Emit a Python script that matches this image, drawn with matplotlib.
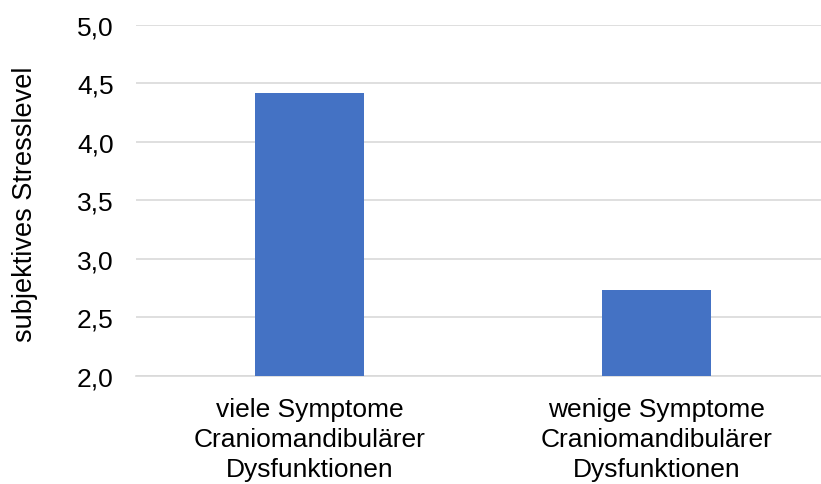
import matplotlib.pyplot as plt
from matplotlib.ticker import FuncFormatter

categories = ["viele Symptome\nCraniomandibulärer\nDysfunktionen",
              "wenige Symptome\nCraniomandibulärer\nDysfunktionen"]
values = [4.415, 2.735]
y_ticks = [2.0, 2.5, 3.0, 3.5, 4.0, 4.5, 5.0]

plt.rcParams['font.family'] = ['Liberation Sans', 'DejaVu Sans']

fig = plt.figure(figsize=(8.21, 4.85), dpi=100)
ax = fig.add_axes([0.1657, 0.2227, 0.845, 0.7237])

ax.bar(range(len(categories)), values, width=0.314, color="#4472C4", zorder=3)
ax.set_xlim(-0.5, 1.5)
ax.set_ylim(2.0, 5.0)
ax.set_yticks(y_ticks)
ax.yaxis.set_major_formatter(FuncFormatter(lambda v, p: f"{v:.1f}".replace(".", ",")))
ax.set_xticks(range(len(categories)))
ax.set_xticklabels(categories, fontsize=19, linespacing=1.31)
ax.tick_params(axis="y", labelsize=19, length=0, pad=16)
ax.tick_params(axis="x", length=0, pad=15)
ax.grid(axis="y", color="#d9d9d9", linewidth=1.2, zorder=0)
for s in ["top", "right", "left"]:
    ax.spines[s].set_visible(False)
ax.spines["bottom"].set_color("#d9d9d9")
ax.spines["bottom"].set_linewidth(1.2)

fig.text(25 / 821, 1 - 204 / 485, "subjektives Stresslevel", rotation=90,
         ha="center", va="center", fontsize=19.5)

fig.savefig("out.png", dpi=100)
